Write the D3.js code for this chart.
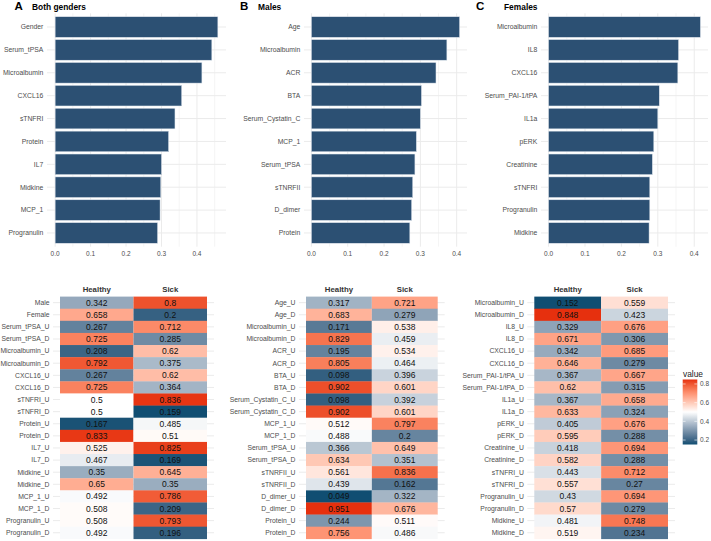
<!DOCTYPE html>
<html>
<head>
<meta charset="utf-8">
<script src="https://cdn.jsdelivr.net/npm/d3@7"></script>
<style>
  body { margin: 0; background: #fff; }
  text { font-family: "Liberation Sans", Arial, sans-serif; }
</style>
</head>
<body>
<svg id="chart" width="711" height="541"></svg>
<script>
// importance bars (top row)
var bothNames = ["Gender","Serum_tPSA","Microalbumin","CXCL16","sTNFRI","Protein","IL7","Midkine","MCP_1","Progranulin"];
var bothVals  = [0.459,0.442,0.414,0.357,0.338,0.320,0.300,0.298,0.296,0.289];
var maleNames = ["Age","Microalbumin","ACR","BTA","Serum_Cystatin_C","MCP_1","Serum_tPSA","sTNRFII","D_dimer","Protein"];
var maleVals  = [0.408,0.373,0.343,0.303,0.300,0.289,0.285,0.279,0.276,0.271];
var femNames  = ["Microalbumin","IL8","CXCL16","Serum_PAI-1/tPA","IL1a","pERK","Creatinine","sTNFRI","Progranulin","Midkine"];
var femVals   = [0.417,0.357,0.355,0.304,0.300,0.289,0.285,0.278,0.278,0.276];
var xTicks = [0, 0.1, 0.2, 0.3, 0.4];

// heatmaps (bottom row)
var heatCols = ["Healthy","Sick"];
var bothRows = ["Male","Female","Serum_tPSA_U","Serum_tPSA_D","Microalbumin_U","Microalbumin_D","CXCL16_U","CXCL16_D","sTNFRI_U","sTNFRI_D","Protein_U","Protein_D","IL7_U","IL7_D","Midkine_U","Midkine_D","MCP_1_U","MCP_1_D","Progranulin_U","Progranulin_D"];
var bothHealthy = [0.342,0.658,0.267,0.725,0.208,0.792,0.267,0.725,0.5,0.5,0.167,0.833,0.525,0.467,0.35,0.65,0.492,0.508,0.508,0.492];
var bothSick    = [0.8,0.2,0.712,0.285,0.62,0.375,0.62,0.364,0.836,0.159,0.485,0.51,0.825,0.169,0.645,0.35,0.786,0.209,0.793,0.196];
var maleRows = ["Age_U","Age_D","Microalbumin_U","Microalbumin_D","ACR_U","ACR_D","BTA_U","BTA_D","Serum_Cystatin_C_U","Serum_Cystatin_C_D","MCP_1_U","MCP_1_D","Serum_tPSA_U","Serum_tPSA_D","sTNRFII_U","sTNRFII_D","D_dimer_U","D_dimer_D","Protein_U","Protein_D"];
var maleHealthy = [0.317,0.683,0.171,0.829,0.195,0.805,0.098,0.902,0.098,0.902,0.512,0.488,0.366,0.634,0.561,0.439,0.049,0.951,0.244,0.756];
var maleSick    = [0.721,0.279,0.538,0.459,0.534,0.464,0.396,0.601,0.392,0.601,0.797,0.2,0.649,0.351,0.836,0.162,0.322,0.676,0.511,0.486];
var femRows = ["Microalbumin_U","Microalbumin_D","IL8_U","IL8_D","CXCL16_U","CXCL16_D","Serum_PAI-1/tPA_U","Serum_PAI-1/tPA_D","IL1a_U","IL1a_D","pERK_U","pERK_D","Creatinine_U","Creatinine_D","sTNFRI_U","sTNFRI_D","Progranulin_U","Progranulin_D","Midkine_U","Midkine_D"];
var femHealthy = [0.152,0.848,0.329,0.671,0.342,0.646,0.367,0.62,0.367,0.633,0.405,0.595,0.418,0.582,0.443,0.557,0.43,0.57,0.481,0.519];
var femSick    = [0.559,0.423,0.676,0.306,0.685,0.279,0.667,0.315,0.658,0.324,0.676,0.288,0.694,0.288,0.712,0.27,0.694,0.279,0.748,0.234];
var legendTicks = [0.2, 0.4, 0.6, 0.8];

var lowCol = "#104E72", midCol = "#ffffff", highCol = "#E6300E";
var barCol = "#2C5073";
var gridCol = "#ebebeb";
var txtCol = "#4d4d4d";

var svg = d3.select("#chart");

var drawBars = function(names, vals, left, right, letter, letterX, title, titleX)
{
    var g = svg.append("g");
    var mx = d3.max(vals);
    var xScale = d3.scaleLinear().domain([-0.05*mx, 1.05*mx]).range([left, right]);
    var yScale = d3.scaleBand().domain(names).range([13.3, 246.7]).paddingInner(0.1).paddingOuter(0.15);

    // minor grid
    var minor = [];
    for (var v = 0.05; v < 1.05*mx; v += 0.1) minor.push(v);
    g.selectAll(".minor").data(minor).enter().append("line")
      .attr("x1", d => xScale(d)).attr("x2", d => xScale(d))
      .attr("y1", 13.3).attr("y2", 246.7)
      .attr("stroke", gridCol).attr("stroke-width", 0.5);
    g.selectAll(".major").data(xTicks).enter().append("line")
      .attr("x1", d => xScale(d)).attr("x2", d => xScale(d))
      .attr("y1", 13.3).attr("y2", 246.7)
      .attr("stroke", gridCol).attr("stroke-width", 1);
    g.selectAll(".hgrid").data(names).enter().append("line")
      .attr("x1", left).attr("x2", right)
      .attr("y1", d => yScale(d) + yScale.bandwidth()/2)
      .attr("y2", d => yScale(d) + yScale.bandwidth()/2)
      .attr("stroke", gridCol).attr("stroke-width", 1);

    g.selectAll("rect").data(vals).enter().append("rect")
      .attr("x", xScale(0))
      .attr("y", (d, i) => yScale(names[i]))
      .attr("width", d => xScale(d) - xScale(0))
      .attr("height", yScale.bandwidth())
      .attr("fill", barCol)
      .attr("stroke", "#dfe6ee").attr("stroke-width", 0.5);

    g.selectAll(".ylab").data(names).enter().append("text")
      .attr("x", left - 3.7)
      .attr("y", d => yScale(d) + yScale.bandwidth()/2)
      .attr("dy", "0.35em").attr("text-anchor", "end")
      .attr("font-size", 6.8).attr("fill", txtCol)
      .text(d => d);

    g.selectAll(".xlab").data(xTicks).enter().append("text")
      .attr("x", d => xScale(d)).attr("y", 254)
      .attr("dy", "0.35em").attr("text-anchor", "middle")
      .attr("font-size", 6.5).attr("fill", txtCol)
      .text(d => d3.format(".1f")(d));

    svg.append("text").attr("x", letterX).attr("y", 10)
      .attr("font-size", 11.5).attr("font-weight", "bold").attr("fill", "#000")
      .text(letter);
    svg.append("text").attr("x", titleX).attr("y", 9.5)
      .attr("font-size", 8.4).attr("font-weight", "bold").attr("fill", "#000")
      .text(title);
}

var colorFor = function(a, b)
{
    var ext = d3.extent(a.concat(b));
    var r = Math.max(Math.abs(ext[0]-0.5), Math.abs(ext[1]-0.5));
    var s = d3.scaleLinear().domain([0.5-r, 0.5, 0.5+r]).range([lowCol, midCol, highCol])
      .interpolate(d3.interpolateLab);
    return {scale: s, ext: ext};
}

var drawHeat = function(rows, healthy, sick, tileLeft, tileRight)
{
    var g = svg.append("g");
    var xScale = d3.scaleBand().domain(heatCols).range([tileLeft, tileRight]);
    var yScale = d3.scaleBand().domain(rows).range([296.6, 538.8]);
    var col = colorFor(healthy, sick);

    g.selectAll(".hgrid").data(rows).enter().append("line")
      .attr("x1", tileLeft - 7).attr("x2", tileRight + 7)
      .attr("y1", d => yScale(d) + yScale.bandwidth()/2)
      .attr("y2", d => yScale(d) + yScale.bandwidth()/2)
      .attr("stroke", gridCol).attr("stroke-width", 1);

    var cells = [];
    rows.forEach(function(r, i) {
        cells.push({row: r, col: "Healthy", v: healthy[i]});
        cells.push({row: r, col: "Sick", v: sick[i]});
    });
    g.selectAll("rect").data(cells).enter().append("rect")
      .attr("x", d => xScale(d.col)).attr("y", d => yScale(d.row))
      .attr("width", xScale.bandwidth()).attr("height", yScale.bandwidth() + 0.3)
      .attr("fill", d => col.scale(d.v));
    g.selectAll(".val").data(cells).enter().append("text")
      .attr("x", d => xScale(d.col) + xScale.bandwidth()/2)
      .attr("y", d => yScale(d.row) + yScale.bandwidth()/2)
      .attr("dy", "0.36em").attr("text-anchor", "middle")
      .attr("font-size", 8.5).attr("fill", "#111")
      .text(d => d.v);

    g.selectAll(".ylab").data(rows).enter().append("text")
      .attr("x", tileLeft - 10.5)
      .attr("y", d => yScale(d) + yScale.bandwidth()/2)
      .attr("dy", "0.35em").attr("text-anchor", "end")
      .attr("font-size", 6.8).attr("fill", txtCol)
      .text(d => d);
    g.selectAll(".xlab").data(heatCols).enter().append("text")
      .attr("x", d => xScale(d) + xScale.bandwidth()/2).attr("y", 289.3)
      .attr("dy", "0.35em").attr("text-anchor", "middle")
      .attr("font-size", 7.8).attr("font-weight", "bold").attr("fill", "#333")
      .text(d => d);
    return col;
}

drawBars(bothNames, bothVals, 47, 226, "A", 14.5, "Both genders", 32);
drawBars(maleNames, maleVals, 304, 467, "B", 240, "Males", 258);
drawBars(femNames, femVals, 541, 708, "C", 476, "Females", 504);

drawHeat(bothRows, bothHealthy, bothSick, 60, 207);
drawHeat(maleRows, maleHealthy, maleSick, 306, 437.7);
var femCol = drawHeat(femRows, femHealthy, femSick, 534.3, 668);

// legend (colour bar for the last panel)
var legY = d3.scaleLinear().domain(femCol.ext).range([444.5, 379.5]);
var defs = svg.append("defs");
var grad = defs.append("linearGradient").attr("id", "cbar")
  .attr("x1", 0).attr("y1", 1).attr("x2", 0).attr("y2", 0);
d3.range(0, 1.0001, 0.05).forEach(function(t) {
    var v = femCol.ext[0] + t*(femCol.ext[1]-femCol.ext[0]);
    grad.append("stop").attr("offset", t).attr("stop-color", femCol.scale(v));
});
var leg = svg.append("g");
leg.append("text").attr("x", 683).attr("y", 376.5)
  .attr("font-size", 8.4).attr("fill", "#222").text("value");
leg.append("rect").attr("x", 682.7).attr("y", 379.5)
  .attr("width", 14.6).attr("height", 65).attr("fill", "url(#cbar)");
leg.selectAll(".tk").data(legendTicks).enter().append("g").each(function(d) {
    var y = legY(d);
    d3.select(this).append("line").attr("x1", 682.7).attr("x2", 685.6).attr("y1", y).attr("y2", y)
      .attr("stroke", "#fff").attr("stroke-width", 0.6);
    d3.select(this).append("line").attr("x1", 694.4).attr("x2", 697.3).attr("y1", y).attr("y2", y)
      .attr("stroke", "#fff").attr("stroke-width", 0.6);
    d3.select(this).append("text").attr("x", 700).attr("y", y).attr("dy", "0.35em")
      .attr("font-size", 6.5).attr("fill", txtCol).text(d3.format(".1f")(d));
});
</script>
</body>
</html>
